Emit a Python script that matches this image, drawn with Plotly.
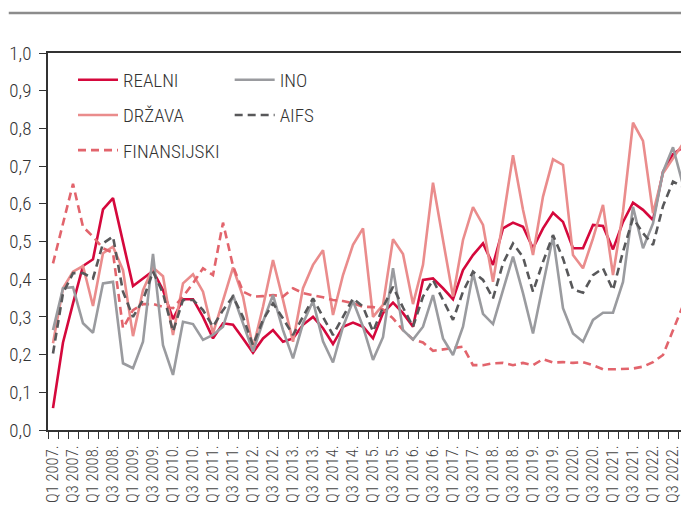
import plotly.graph_objects as go

years = list(range(2007, 2023))
quarters = [f"Q{q} {y}." for y in years for q in range(1, 5)]

realni = [0.058, 0.232, 0.336, 0.435, 0.453, 0.585, 0.615, 0.50, 0.382, 0.402, 0.422, 0.371, 0.294, 0.347, 0.347, 0.30,
          0.243, 0.283, 0.279, 0.243, 0.205, 0.243, 0.265, 0.234, 0.243, 0.279, 0.30, 0.27, 0.228, 0.274, 0.285,
          0.274, 0.243, 0.31, 0.338, 0.31, 0.274, 0.398, 0.402, 0.376, 0.347, 0.424, 0.464, 0.495, 0.438, 0.535, 0.55,
          0.539, 0.482, 0.535, 0.576, 0.552, 0.482, 0.482, 0.544, 0.541, 0.479, 0.552, 0.603, 0.584, 0.557, 0.685, 0.732, 0.75]
drzava = [0.23, 0.376, 0.42, 0.435, 0.329, 0.469, 0.486, 0.424, 0.249, 0.371, 0.431, 0.408, 0.252, 0.389, 0.413, 0.367,
          0.256, 0.345, 0.431, 0.354, 0.217, 0.327, 0.451, 0.345, 0.234, 0.376, 0.438, 0.477, 0.305, 0.411, 0.491,
          0.535, 0.30, 0.332, 0.506, 0.467, 0.334, 0.438, 0.656, 0.504, 0.354, 0.504, 0.591, 0.544, 0.393, 0.557, 0.729,
          0.584, 0.464, 0.619, 0.718, 0.703, 0.464, 0.429, 0.508, 0.597, 0.411, 0.579, 0.815, 0.767, 0.575, 0.681, 0.72, 0.76]
finansijski = [0.442, 0.548, 0.653, 0.539, 0.513, 0.482, 0.47, 0.27, 0.318, 0.334, 0.334, 0.327, 0.323, 0.354, 0.389, 0.429,
               0.411, 0.55, 0.435, 0.367, 0.354, 0.355, 0.358, 0.354, 0.376, 0.363, 0.358, 0.352, 0.345, 0.342, 0.336,
               0.327, 0.326, 0.32, 0.296, 0.265, 0.24, 0.232, 0.21, 0.214, 0.217, 0.221, 0.172, 0.172, 0.177, 0.178, 0.172,
               0.178, 0.172, 0.188, 0.179, 0.18, 0.178, 0.18, 0.172, 0.161, 0.161, 0.162, 0.163, 0.168, 0.18, 0.199, 0.265, 0.33]
ino = [0.265, 0.376, 0.379, 0.283, 0.258, 0.389, 0.393, 0.177, 0.164, 0.234, 0.467, 0.225, 0.146, 0.287, 0.281, 0.239,
       0.252, 0.274, 0.358, 0.283, 0.208, 0.287, 0.358, 0.265, 0.19, 0.283, 0.342, 0.235, 0.179, 0.274, 0.342,
       0.274, 0.186, 0.246, 0.429, 0.265, 0.24, 0.274, 0.358, 0.243, 0.199, 0.274, 0.416, 0.308, 0.281, 0.371, 0.46,
       0.363, 0.256, 0.385, 0.513, 0.323, 0.256, 0.234, 0.292, 0.311, 0.311, 0.393, 0.592, 0.482, 0.548, 0.685, 0.75, 0.65]
aifs = [0.203, 0.363, 0.416, 0.416, 0.402, 0.495, 0.513, 0.367, 0.30, 0.345, 0.42, 0.363, 0.261, 0.345, 0.345, 0.318,
        0.274, 0.318, 0.354, 0.30, 0.225, 0.292, 0.336, 0.296, 0.252, 0.30, 0.349, 0.30, 0.252, 0.30, 0.349,
        0.327, 0.261, 0.325, 0.38, 0.325, 0.274, 0.354, 0.398, 0.345, 0.292, 0.367, 0.42, 0.398, 0.349, 0.442, 0.495,
        0.459, 0.367, 0.446, 0.517, 0.455, 0.373, 0.364, 0.411, 0.429, 0.371, 0.473, 0.562, 0.522, 0.491, 0.594, 0.659, 0.645]

x = list(range(len(quarters)))
FONT = "Roboto Condensed, Liberation Sans Narrow, sans-serif"

series = [
    ("REALNI", realni, "#D5083C", "solid", "legend"),
    ("DRŽAVA", drzava, "#EA8C8C", "solid", "legend"),
    ("FINANSIJSKI", finansijski, "#E2646C", "8px,5px", "legend"),
    ("INO", ino, "#9A9B9F", "solid", "legend2"),
    ("AIFS", aifs, "#58585A", "8px,5px", "legend2"),
]

fig = go.Figure()
for name, vals, color, dash, leg in series:
    fig.add_trace(go.Scatter(
        x=x, y=vals, mode="lines", name=name, legend=leg, legendgroup=name,
        line=dict(color=color, width=2.6, dash=dash),
        hovertext=quarters,
    ))

legfont = dict(family=FONT, size=19, color="#333333", weight=300)
fig.update_layout(
    width=681, height=528,
    margin=dict(l=48, r=0, t=53, b=98, pad=0),
    paper_bgcolor="white", plot_bgcolor="white",
    separators=", ",
    font=dict(family=FONT, color="#333333", size=18),
    legend=dict(x=0.0395, y=0.979, xanchor="left", yanchor="top", font=legfont,
                bgcolor="rgba(0,0,0,0)", tracegroupgap=7.5, itemwidth=40),
    legend2=dict(x=0.287, y=0.979, xanchor="left", yanchor="top", font=legfont,
                 bgcolor="rgba(0,0,0,0)", tracegroupgap=7.5, itemwidth=40),
    showlegend=True,
)

fig.update_xaxes(
    range=[-0.5, 62.8], automargin=False,
    tickmode="array",
    tickvals=x[::2], ticktext=quarters[::2],
    tickangle=-90,
    ticks="", ticklabelstandoff=7, ticklabeloverflow="allow",
    tickfont=dict(family=FONT, size=16.5, color="#444444", weight=300),
    minor=dict(tickmode="array", tickvals=[i - 0.5 for i in range(len(quarters) + 1)],
               ticks="outside", ticklen=7, tickcolor="#333333", tickwidth=1.2),
    showline=True, linecolor="#333333", linewidth=1.6, mirror=True,
    showgrid=False, zeroline=False,
)
fig.update_yaxes(
    range=[0, 1.0], dtick=0.1, tickformat=".1f", automargin=False,
    ticks="outside", ticklen=7, tickcolor="#333333", tickwidth=1.2,
    ticklabelstandoff=4,
    tickfont=dict(family=FONT, size=19, color="#333333", weight=300),
    showline=True, linecolor="#333333", linewidth=1.6,
    showgrid=False, zeroline=False,
)

fig.add_shape(type="line", xref="paper", yref="paper",
              x0=-0.062, x1=1.0, y0=1.106, y1=1.106,
              line=dict(color="#8C8C8C", width=2.5))

fig.write_html(
    "out.html",
    config={"displayModeBar": False},
    post_script="document.documentElement.style.margin='0';document.body.style.margin='0';"
                "document.body.style.overflow='hidden';",
)
